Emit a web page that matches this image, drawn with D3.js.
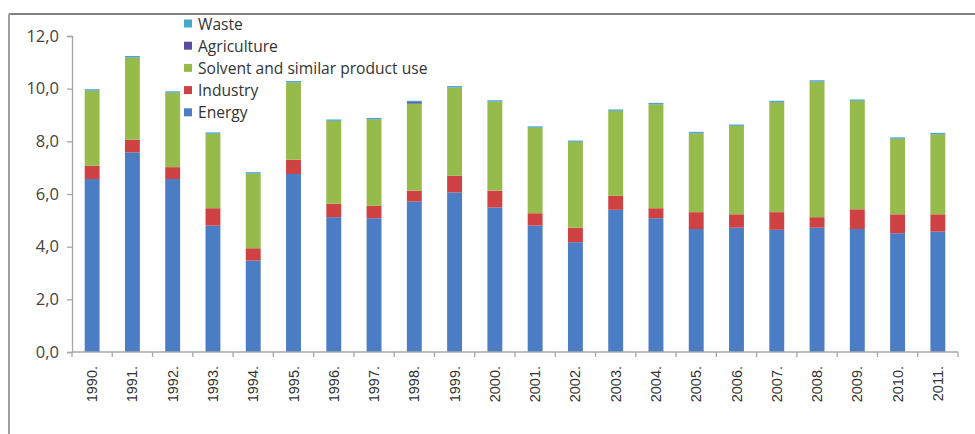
<!DOCTYPE html>
<html lang="en">
<head>
    <meta charset="UTF-8">
    <title>Emissions by sector</title>
    <style>
        body { margin: 0; background: #fff; }
    </style>
</head>
<body>
<script src="https://d3js.org/d3.v7.min.js"></script>
<script>
    let w = 975, h = 434;

    // data
    let years = ["1990.", "1991.", "1992.", "1993.", "1994.", "1995.", "1996.", "1997.", "1998.", "1999.", "2000.",
        "2001.", "2002.", "2003.", "2004.", "2005.", "2006.", "2007.", "2008.", "2009.", "2010.", "2011."];
    let energy = [6.57, 7.58, 6.57, 4.80, 3.47, 6.76, 5.12, 5.08, 5.71, 6.06, 5.49, 4.80, 4.17, 5.40, 5.08, 4.67, 4.72, 4.64, 4.72, 4.67, 4.51, 4.57];
    let industry = [0.50, 0.48, 0.45, 0.66, 0.47, 0.54, 0.51, 0.47, 0.42, 0.63, 0.64, 0.47, 0.55, 0.53, 0.38, 0.64, 0.51, 0.67, 0.40, 0.75, 0.72, 0.66];
    let solvent = [2.85, 3.12, 2.82, 2.82, 2.83, 2.93, 3.14, 3.28, 3.30, 3.35, 3.37, 3.24, 3.25, 3.22, 3.94, 2.99, 3.35, 4.17, 5.14, 4.11, 2.86, 3.03];
    let agriculture = [0.01, 0.01, 0.01, 0.01, 0.01, 0.01, 0.01, 0.01, 0.06, 0.01, 0.01, 0.01, 0.01, 0.01, 0.01, 0.01, 0.01, 0.01, 0.01, 0.01, 0.01, 0.01];
    let waste = [0.05, 0.05, 0.05, 0.05, 0.05, 0.05, 0.05, 0.05, 0.05, 0.05, 0.05, 0.05, 0.05, 0.05, 0.05, 0.05, 0.05, 0.05, 0.05, 0.05, 0.05, 0.05];
    let seriesNames = ["Energy", "Industry", "Solvent and similar product use", "Agriculture", "Waste"];
    let yTicks = [0, 2, 4, 6, 8, 10, 12];

    let colors = {
        "Energy": "#4a7dc3",
        "Industry": "#cf4243",
        "Solvent and similar product use": "#96bb4b",
        "Agriculture": "#5a4f9e",
        "Waste": "#43a9c9"
    };

    let rows = years.map(function (y, i) {
        return {
            year: y,
            "Energy": energy[i],
            "Industry": industry[i],
            "Solvent and similar product use": solvent[i],
            "Agriculture": agriculture[i],
            "Waste": waste[i]
        };
    });

    let svg = d3.select("body")
        .append("svg")
        .attr("width", w)
        .attr("height", h);

    // frame of the original picture
    svg.append("line").attr("x1", 9).attr("x2", w).attr("y1", 14).attr("y2", 14)
        .attr("stroke", "#808080").attr("stroke-width", 2);
    svg.append("line").attr("x1", 9).attr("x2", 9).attr("y1", 14).attr("y2", h)
        .attr("stroke", "#a0a0a0").attr("stroke-width", 2);

    let x = d3.scaleBand()
        .domain(years)
        .range([72, 958])
        .paddingInner(0.63)
        .paddingOuter(0.315);

    let y = d3.scaleLinear()
        .domain([0, 12])
        .range([352, 36]);

    let stack = d3.stack().keys(seriesNames);
    let layers = stack(rows);

    svg.append("g")
        .selectAll("g")
        .data(layers)
        .enter()
        .append("g")
        .attr("fill", d => colors[d.key])
        .selectAll("rect")
        .data(d => d)
        .enter()
        .append("rect")
        .attr("x", d => x(d.data.year))
        .attr("width", x.bandwidth())
        .attr("y", d => y(d[1]))
        .attr("height", d => y(d[0]) - y(d[1]));

    // y axis
    let yAxis = svg.append("g")
        .attr("transform", "translate(72,0)")
        .call(d3.axisLeft(y).tickValues(yTicks).tickSize(5).tickPadding(8)
            .tickFormat(d => d3.format(".1f")(d).replace(".", ",")));
    yAxis.selectAll("path, line").attr("stroke", "#a6a6a6").attr("stroke-width", 1.3);
    yAxis.selectAll("text")
        .style("font-family", "'Open Sans', sans-serif")
        .style("font-size", "16.5px")
        .attr("fill", "#444");

    // x axis with ticks between categories
    let step = x.step();
    let bounds = d3.range(years.length + 1).map(i => x.range()[0] + i * step);
    let xg = svg.append("g");
    xg.append("line")
        .attr("x1", 72).attr("x2", 958).attr("y1", y(0)).attr("y2", y(0))
        .attr("stroke", "#a6a6a6").attr("stroke-width", 1.3);
    xg.selectAll(".tk")
        .data(bounds)
        .enter()
        .append("line")
        .attr("x1", d => d).attr("x2", d => d)
        .attr("y1", y(0)).attr("y2", y(0) + 5)
        .attr("stroke", "#a6a6a6").attr("stroke-width", 1.3);
    xg.selectAll("text")
        .data(years)
        .enter()
        .append("text")
        .attr("transform", d => "translate(" + (x(d) + x.bandwidth() / 2 + 5) + "," + (y(0) + 14) + ") rotate(-90)")
        .attr("text-anchor", "end")
        .style("font-family", "'Liberation Sans', Arial, sans-serif")
        .style("font-size", "14.5px")
        .attr("fill", "#333")
        .text(d => d);

    // legend
    let legendItems = seriesNames.slice().reverse();
    let legend = svg.append("g")
        .selectAll("g")
        .data(legendItems)
        .enter()
        .append("g")
        .attr("transform", (d, i) => "translate(184," + (24 + i * 22.2) + ")");
    legend.append("rect")
        .attr("x", 0).attr("y", -4.5)
        .attr("width", 8).attr("height", 8)
        .attr("fill", d => colors[d]);
    legend.append("text")
        .attr("x", 14).attr("y", 5.5)
        .style("font-family", "'Open Sans', sans-serif")
        .style("font-size", "15.6px")
        .attr("fill", "#333")
        .text(d => d);
</script>
</body>
</html>
